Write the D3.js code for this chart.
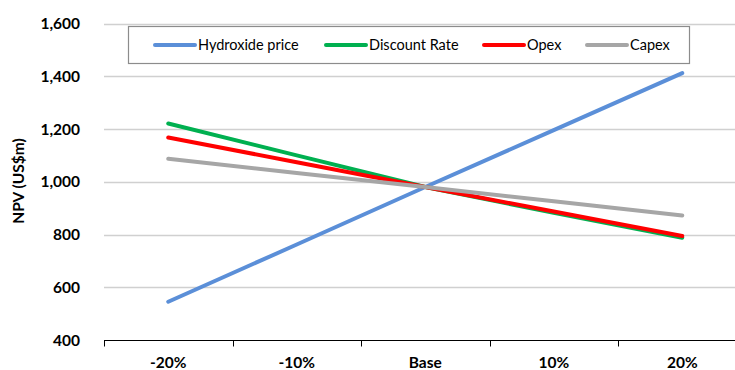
<!DOCTYPE html>
<html><head><meta charset="utf-8">
<script src="https://cdn.jsdelivr.net/npm/d3@7"></script>
<style>body{margin:0;background:#fff}svg{display:block}</style>
</head><body><svg id="c" width="735" height="370"></svg>
<script>
const categories = ["-20%", "-10%", "Base", "10%", "20%"];
const hydroxide = [545, 762, 980, 1196, 1412];
const discountRate = [1221, 1100, 980, 882, 788];
const opex = [1168, 1074, 980, 887, 794];
const capex = [1087, 1033, 980, 926, 872];
const seriesNames = ["Hydroxide price", "Discount Rate", "Opex", "Capex"];
const seriesColors = ["#5B8FD8", "#00B050", "#FF0000", "#A6A6A6"];
const yTicks = [400, 600, 800, 1000, 1200, 1400, 1600];
const series = [hydroxide, discountRate, opex, capex];

(function () {
const svg = d3.select("#c");
const font = "Lato, 'Open Sans', sans-serif";
const mLeft = 104, mTop = 23.5, mBottom = 340, bandW = 128.5;
const x = d3.scaleBand().domain(categories).range([mLeft, mLeft + bandW * categories.length]);
const y = d3.scaleLinear().domain([400, 1600]).range([mBottom, mTop]);

// gridlines
svg.append("g").selectAll("line").data(yTicks.slice(1)).join("line")
  .attr("x1", mLeft).attr("x2", 735)
  .attr("y1", d => Math.round(y(d)) + 0.5).attr("y2", d => Math.round(y(d)) + 0.5)
  .attr("stroke", "#D0D0D0").attr("stroke-width", 1.3);

// y tick labels
svg.append("g").selectAll("text").data(yTicks).join("text")
  .attr("x", 80).attr("y", d => y(d)).attr("dy", "0.36em")
  .attr("text-anchor", "end").attr("font-family", font).attr("font-weight", 700)
  .attr("font-size", 15.5).attr("fill", "#000")
  .text(d => d3.format(",")(d));

// x axis
const gx = svg.append("g").attr("transform", `translate(0,${mBottom + 0.5})`);
gx.append("line").attr("x1", mLeft).attr("x2", 735).attr("stroke", "#000").attr("stroke-width", 1.2);
gx.selectAll("line.bt").data(categories).join("line").attr("class", "bt")
  .attr("x1", d => Math.round(x(d)) + 0.5).attr("x2", d => Math.round(x(d)) + 0.5)
  .attr("y1", 0).attr("y2", 6).attr("stroke", "#000").attr("stroke-width", 1);
svg.append("g").selectAll("text").data(categories).join("text")
  .attr("x", d => x(d) + x.bandwidth() / 2).attr("y", 368)
  .attr("text-anchor", "middle").attr("font-family", font).attr("font-weight", 700)
  .attr("font-size", 15.5).attr("fill", "#000").text(d => d);

// y axis title
svg.append("text").attr("transform", "translate(24,181) rotate(-90)")
  .attr("text-anchor", "middle").attr("font-family", font).attr("font-weight", 700)
  .attr("font-size", 15.5).attr("fill", "#000").text("NPV (US$m)");

// lines
const line = d3.line().x((d, i) => x(categories[i]) + x.bandwidth() / 2).y(d => y(d));
svg.append("g").selectAll("path").data(series).join("path")
  .attr("d", d => line(d)).attr("fill", "none")
  .attr("stroke", (d, i) => seriesColors[i]).attr("stroke-width", 4).attr("stroke-linecap", "round");

// legend
const lg = svg.append("g");
lg.append("rect").attr("x", 128.5).attr("y", 26.5).attr("width", 561).attr("height", 37)
  .attr("fill", "#fff").attr("stroke", "#8C8C8C").attr("stroke-width", 1.2);
const lx = [155, 326, 484, 587];
seriesNames.forEach((n, i) => {
  lg.append("line").attr("x1", lx[i]).attr("x2", lx[i] + 40).attr("y1", 45).attr("y2", 45)
    .attr("stroke", seriesColors[i]).attr("stroke-width", 4).attr("stroke-linecap", "round");
  lg.append("text").attr("x", lx[i] + 43).attr("y", 45).attr("dy", "0.36em")
    .attr("font-family", font).attr("font-size", 14.5).attr("fill", "#000").text(n);
});
})();
</script></body></html>
